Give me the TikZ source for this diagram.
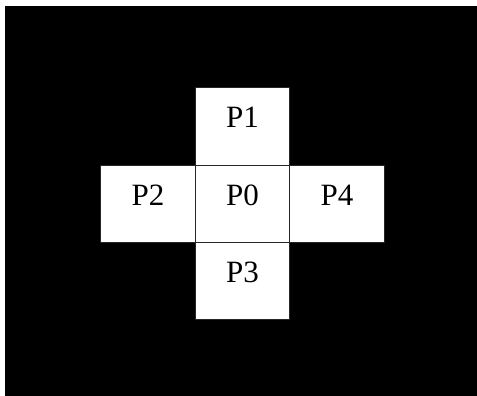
\documentclass[tikz,border=0pt]{standalone}
\usepackage{fontspec}
\setmainfont{Liberation Serif}
\begin{document}
\begin{tikzpicture}[x=1pt,y=-1pt,
  cell/.style={draw=black!85, line width=1pt, fill=white, rectangle,
    inner sep=0pt, minimum width=94.5pt, text height=40pt, text depth=37.5pt,
    font=\fontsize{31}{31}\selectfont}]
  \useasboundingbox (0,0) rectangle (477,396);
  % dark background panel
  \fill[white] (0,0) rectangle (477,396);
  \fill[black] (5,6) rectangle (477,396);
  % cross of five cells
  \node[cell] (p1) at (242.5,126.5) {P1};
  \node[cell] (p2) at (148,204) {P2};
  \node[cell] (p0) at (242.5,204) {P0};
  \node[cell] (p4) at (337,204) {P4};
  \node[cell] (p3) at (242.5,281) {P3};
\end{tikzpicture}
\end{document}
